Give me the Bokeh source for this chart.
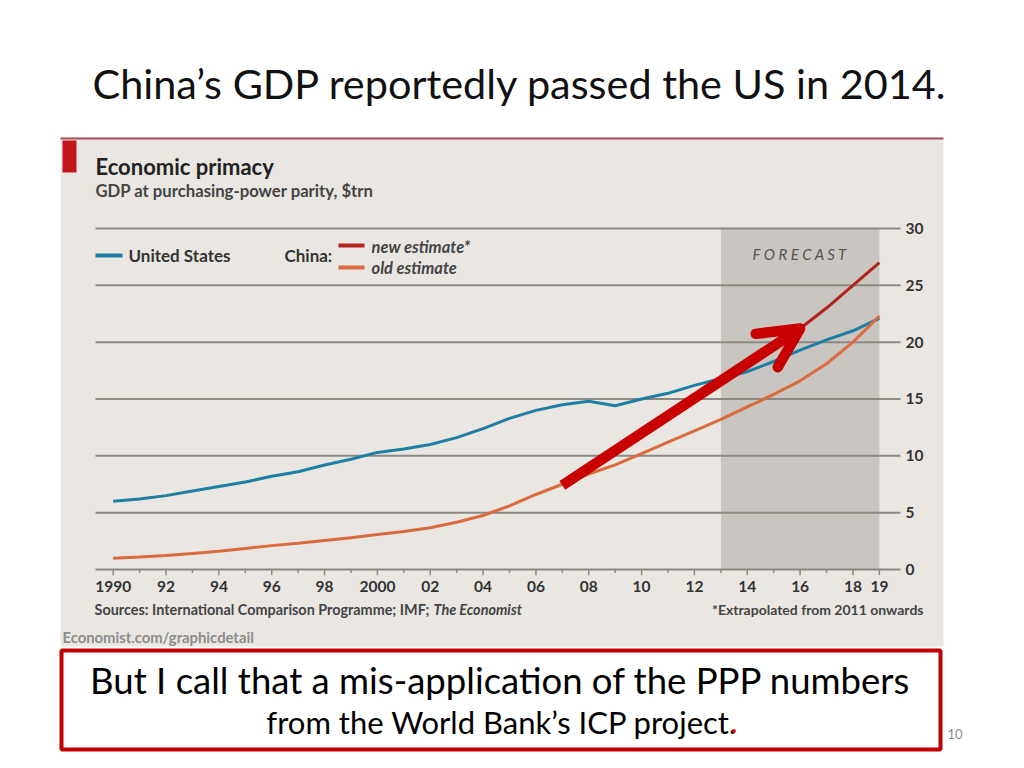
from bokeh.plotting import figure
from bokeh.models import Range1d, Arrow, OpenHead
from bokeh.embed import file_html
from bokeh.resources import INLINE
from bokeh.core.properties import value

# ---------------- data ----------------
years = list(range(1990, 2020))
us_gdp = [6.0, 6.2, 6.5, 6.9, 7.3, 7.7, 8.2, 8.6, 9.2, 9.7,
          10.3, 10.6, 11.0, 11.6, 12.4, 13.3, 14.0, 14.5, 14.8, 14.4,
          15.0, 15.5, 16.2, 16.8, 17.4, 18.3, 19.3, 20.2, 21.0, 22.1]
china_old = [1.0, 1.1, 1.23, 1.4, 1.6, 1.85, 2.1, 2.3, 2.55, 2.8,
             3.08, 3.35, 3.67, 4.15, 4.75, 5.6, 6.6, 7.5, 8.4, 9.2,
             10.2, 11.2, 12.2, 13.2, 14.3, 15.4, 16.6, 18.1, 20.0, 22.3]
new_years = list(range(2011, 2020))
china_new = [13.5, 14.9, 16.4, 17.9, 19.5, 21.2, 23.0, 25.0, 27.0]

y_ticks = [0, 5, 10, 15, 20, 25, 30]
y_tick_labels = ["0", "5", "10", "15", "20", "25", "30"]
x_tick_years = [1990, 1992, 1994, 1996, 1998, 2000, 2002, 2004, 2006,
                2008, 2010, 2012, 2014, 2016, 2018, 2019]
x_tick_labels = ["1990", "92", "94", "96", "98", "2000", "02", "04", "06",
                 "08", "10", "12", "14", "16", "18", "19"]
forecast_span = [2013, 2019]
arrow_start = [2007.0, 7.4]
arrow_end = [2016.0, 21.2]

# ---------------- geometry helpers (slide pixel -> data) ----------------
X0, XS = 112.7, 26.42     # pixel of 1990, px per year
Y0, YS = 569.0, 11.367    # pixel of 0, px per unit


def X(px):
    return 1990 + (px - X0) / XS


def Y(py):
    return (Y0 - py) / YS


US_C = "#1f7ea3"
OLD_C = "#db6a3f"
NEW_C = "#b3231c"
RED = "#c80000"
GRID_C = "#8c8983"
TXT_C = "#333333"

p = figure(width=1008, height=752,
           x_range=Range1d(X(0), X(1008)), y_range=Range1d(Y(752), Y(0)),
           output_backend="svg", toolbar_location=None, min_border=0,
           x_axis_location=None, y_axis_location=None)
p.grid.visible = False
p.outline_line_color = None
p.background_fill_color = "white"
p.border_fill_color = "white"


def label(px, py, txt, size, style="normal", color=TXT_C, align="left",
          baseline="middle", font="Lato"):
    p.text(x=[X(px)], y=[Y(py)], text=[txt], text_font=value(font),
           text_font_size=value(f"{size}px"), text_font_style=style,
           text_color=color, text_align=align, text_baseline=baseline)


# slide title
label(92, 82, "China\u2019s GDP reportedly passed the US in 2014.", 41.4, color="#111111")

# chart image background
p.quad(left=[X(60)], right=[X(943)], top=[Y(137)], bottom=[Y(646)],
       fill_color="#eae7e2", line_color=None)
p.segment(x0=[X(60)], x1=[X(943)], y0=[Y(138)], y1=[Y(138)],
          line_color="#a8505a", line_width=2)
p.quad(left=[X(62)], right=[X(76)], top=[Y(140)], bottom=[Y(172)],
       fill_color="#c2161c", line_color=None)

# forecast band
p.quad(left=[forecast_span[0]], right=[forecast_span[1]], top=[y_ticks[-1]],
       bottom=[y_ticks[0]], fill_color="#c9c5c0", line_color=None)
p.text(x=[(forecast_span[0] + forecast_span[1]) / 2], y=[Y(253)],
       text=["F O R E C A S T"],
       text_font=value("Lato"), text_font_size=value("15px"),
       text_font_style="italic", text_color="#555555",
       text_align="center", text_baseline="middle")

# grid lines
p.segment(x0=[X(95)] * len(y_ticks), x1=[X(900)] * len(y_ticks),
          y0=y_ticks, y1=y_ticks, line_color=GRID_C, line_width=2)
# year ticks
major = [y for y in years if y % 2 == 0 or y == 2019]
minor = [y for y in years if y not in major]
p.segment(x0=major, x1=major, y0=[0] * len(major), y1=[-0.5] * len(major),
          line_color=GRID_C, line_width=1.5)
p.segment(x0=minor, x1=minor, y0=[0] * len(minor), y1=[-0.3] * len(minor),
          line_color=GRID_C, line_width=1.5)

# tick labels
p.text(x=[X(905)] * len(y_ticks), y=y_ticks, text=y_tick_labels,
       text_font=value("Lato"), text_font_size=value("15.5px"),
       text_font_style="bold", text_color=TXT_C, text_align="left",
       text_baseline="middle")
p.text(x=x_tick_years, y=[Y(586)] * len(x_tick_years), text=x_tick_labels,
       text_font=value("Lato"), text_font_size=value("15.5px"),
       text_font_style="bold", text_color=TXT_C, text_align="center",
       text_baseline="middle")

# series
p.line(years, us_gdp, line_color=US_C, line_width=3)
p.line(years, china_old, line_color=OLD_C, line_width=3)
p.line(new_years, china_new, line_color=NEW_C, line_width=3)

# chart texts
label(95, 166, "Economic primacy", 22, style="bold", color="#222222")
label(95, 190, "GDP at purchasing-power parity, $trn", 16.7, style="bold", color="#444444")

# legend
p.segment(x0=[X(95)], x1=[X(122)], y0=[Y(255)], y1=[Y(255)], line_color=US_C, line_width=4)
label(128, 255, "United States", 17, style="bold", color="#333333")
label(284, 255, "China:", 17, style="bold", color="#333333")
p.segment(x0=[X(338)], x1=[X(364)], y0=[Y(245)], y1=[Y(245)], line_color=NEW_C, line_width=4)
p.segment(x0=[X(338)], x1=[X(364)], y0=[Y(267)], y1=[Y(267)], line_color=OLD_C, line_width=4)
label(371, 246, "new estimate*", 16.5, style="bold italic", color="#444444")
label(371, 267, "old estimate", 16.5, style="bold italic", color="#444444")

# footnotes
label(429, 609, "Sources: International Comparison Programme; IMF;", 14.4, style="bold",
      color="#444444", align="right")
label(433, 609, "The Economist", 14.4, style="bold italic", color="#444444")
label(923, 609, "*Extrapolated from 2011 onwards", 14, style="bold", color="#444444",
      align="right")
label(62, 636, "Economist.com/graphicdetail", 14.8, style="bold", color="#8d8d8d")

# red arrow drawn over the chart
p.add_layout(Arrow(end=OpenHead(size=40, line_color=RED, line_width=10.5,
                                line_join="round", line_cap="round"),
                   x_start=arrow_start[0], y_start=arrow_start[1],
                   x_end=arrow_end[0], y_end=arrow_end[1],
                   line_color=RED, line_width=10.5))

# bottom callout box
p.quad(left=[X(61)], right=[X(940)], top=[Y(650)], bottom=[Y(749)],
       fill_color="white", line_color="#c00000", line_width=4)
label(500, 679, "But I call that a mis-application of the PPP numbers", 36.5,
      color="#000000", align="center")
label(737, 721, "from the World Bank\u2019s ICP project.", 31, color="#000000", align="right")
label(737, 721, ".", 31, color="#e00000", align="right")

# page number
label(962, 733, "10", 13, color="#8b8b8b", align="right")

open("out.html", "w").write(file_html(p, INLINE))
